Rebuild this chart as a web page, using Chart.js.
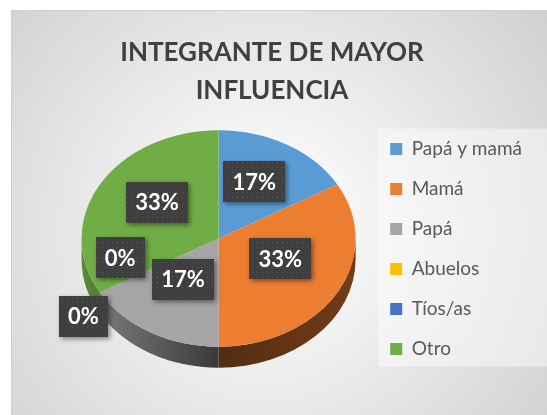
<!DOCTYPE html>
<html>
<head>
<meta charset="utf-8">
<script src="https://cdn.jsdelivr.net/npm/chart.js@4"></script>
<style>
  html, body { margin: 0; padding: 0; background: #fff; }
  #wrap { width: 547px; height: 415px; }
</style>
</head>
<body>
<div id="wrap"><canvas id="pieChart" width="547" height="415"></canvas></div>
<script>
// Datos del gráfico
const categories = ['Papá y mamá', 'Mamá', 'Papá', 'Abuelos', 'Tíos/as', 'Otro'];
const counts = [1, 2, 1, 0, 0, 2];
const sliceColors = ['#5B9BD5', '#ED7D31', '#A5A5A5', '#FFC000', '#4472C4', '#70AD47'];
const titleLines = ['INTEGRANTE DE MAYOR', 'INFLUENCIA'];

const total = counts.reduce((a, b) => a + b, 0);
const percentText = counts.map(v => Math.round(v / total * 100) + '%');

const PIE_TILT = 0.79;  // aplastamiento vertical de la cara superior
const PIE_DEPTH = 21;   // grosor del "pastel" en 3D

// posición de las etiquetas; las porciones vacías (en 240°) se separan a mano
const defaultLabel = { frac: 0.52, turn: 0, lift: 8 };
const labelTweaks = { 3: { frac: 0.74, turn: 16, lift: 0 }, 4: { frac: 1.22, turn: -6, lift: 0 } };

function shade(hex, f) {
    const n = parseInt(hex.slice(1), 16);
    const r = Math.round(((n >> 16) & 255) * f);
    const g = Math.round(((n >> 8) & 255) * f);
    const b = Math.round((n & 255) * f);
    return `rgb(${r},${g},${b})`;
}

// patrón punteado de las cajas de etiquetas
const patCanvas = document.createElement('canvas');
patCanvas.width = 5; patCanvas.height = 5;
const pctx = patCanvas.getContext('2d');
pctx.fillStyle = '#3f3f3f';
pctx.fillRect(0, 0, 5, 5);
pctx.fillStyle = '#585858';
pctx.fillRect(2, 2, 1, 1);

const pie3d = {
    id: 'pie3d',
    beforeDraw(chart) {
        const { ctx, width, height } = chart;
        ctx.save();
        ctx.fillStyle = '#fff';
        ctx.fillRect(0, 0, width, height);
        const g = ctx.createRadialGradient(265, 230, 20, 265, 230, 380);
        g.addColorStop(0, '#ffffff');
        g.addColorStop(1, '#cdcdcd');
        ctx.fillStyle = g;
        ctx.fillRect(11, 10, width - 11, height - 10);
        ctx.strokeStyle = '#d0d0d0';
        ctx.lineWidth = 1;
        ctx.strokeRect(11.5, 10.5, width, height);

        // título centrado sobre todo el gráfico (no sólo sobre el área del pastel)
        ctx.fillStyle = '#404040';
        ctx.font = 'bold 26px Lato';
        ctx.textAlign = 'center';
        ctx.textBaseline = 'middle';
        titleLines.forEach((line, i) => ctx.fillText(line, 272, 53 + i * 38));

        // panel claro detrás de la leyenda
        const boxes = chart.legend && chart.legend.legendHitBoxes;
        if (boxes && boxes.length) {
            const first = boxes[0], last = boxes[boxes.length - 1];
            const top = first.top - 11;
            ctx.fillStyle = 'rgba(255,255,255,0.45)';
            ctx.fillRect(first.left - 12, top, width - first.left + 12, last.top + last.height + 8 - top);
        }
        ctx.restore();
    },
    beforeDatasetsDraw(chart) {
        const { ctx } = chart;
        const arcs = chart.getDatasetMeta(0).data;
        const cx = arcs[0].x, cy = arcs[0].y, r = arcs[0].outerRadius;
        const ry = r * PIE_TILT;
        const topY = cy - PIE_DEPTH / 2;
        ctx.save();
        // lados visibles (mitad frontal)
        arcs.forEach((arc, i) => {
            if (arc.endAngle - arc.startAngle <= 0) return;
            [-2 * Math.PI, 0, 2 * Math.PI].forEach(shift => {
                const s = Math.max(arc.startAngle + shift, 0);
                const e = Math.min(arc.endAngle + shift, Math.PI);
                if (e <= s) return;
                const grad = ctx.createLinearGradient(cx - r, 0, cx + r, 0);
                grad.addColorStop(0, shade(sliceColors[i], 0.8));
                grad.addColorStop(0.5, shade(sliceColors[i], 0.35));
                grad.addColorStop(1, shade(sliceColors[i], 0.48));
                ctx.beginPath();
                ctx.ellipse(cx, topY, r, ry, 0, s, e);
                ctx.ellipse(cx, topY + PIE_DEPTH, r, ry, 0, e, s, true);
                ctx.closePath();
                ctx.fillStyle = grad;
                ctx.fill();
            });
        });
        // la cara superior se dibuja aplastada
        ctx.translate(cx, topY);
        ctx.scale(1, PIE_TILT);
        ctx.translate(-cx, -cy);
    },
    afterDatasetsDraw(chart) {
        const { ctx } = chart;
        ctx.restore();
        const arcs = chart.getDatasetMeta(0).data;
        ctx.save();
        ctx.font = 'bold 22px Lato';
        ctx.textAlign = 'center';
        ctx.textBaseline = 'middle';
        const pattern = ctx.createPattern(patCanvas, 'repeat');
        arcs.forEach((arc, i) => {
            const tw = labelTweaks[i] || defaultLabel;
            const mid = (arc.startAngle + arc.endAngle) / 2 + tw.turn * Math.PI / 180;
            const rr = arc.outerRadius * tw.frac;
            const x = arc.x + Math.cos(mid) * rr;
            const y = arc.y - PIE_DEPTH / 2 - tw.lift + Math.sin(mid) * rr * PIE_TILT;
            const text = percentText[i];
            const w = Math.round(ctx.measureText(text).width + 18), h = 41;
            ctx.save();
            ctx.shadowColor = 'rgba(0,0,0,0.45)';
            ctx.shadowBlur = 5;
            ctx.shadowOffsetX = 2;
            ctx.shadowOffsetY = 2;
            ctx.fillStyle = pattern;
            ctx.fillRect(Math.round(x - w / 2), Math.round(y - h / 2), w, h);
            ctx.restore();
            ctx.fillStyle = '#ffffff';
            ctx.fillText(text, x, y + 1);
        });
        ctx.restore();
    }
};

Chart.defaults.font.family = 'Lato, "Open Sans", sans-serif';

const myChart = new Chart(document.getElementById('pieChart'), {
    type: 'pie',
    data: {
        labels: categories,
        datasets: [{
            data: counts,
            backgroundColor: sliceColors,
            borderWidth: 0,
            clip: false
        }]
    },
    options: {
        responsive: false,
        animation: false,
        devicePixelRatio: 1,
        radius: 137,
        layout: { padding: { left: 68, right: 15, top: 100, bottom: 17 } },
        plugins: {
            tooltip: { enabled: false },
            title: { display: false },
            legend: {
                position: 'right',
                align: 'center',
                labels: {
                    color: '#595959',
                    font: { size: 19 },
                    boxWidth: 12,
                    boxHeight: 12,
                    padding: 21
                }
            }
        }
    },
    plugins: [pie3d]
});
</script>
</body>
</html>
